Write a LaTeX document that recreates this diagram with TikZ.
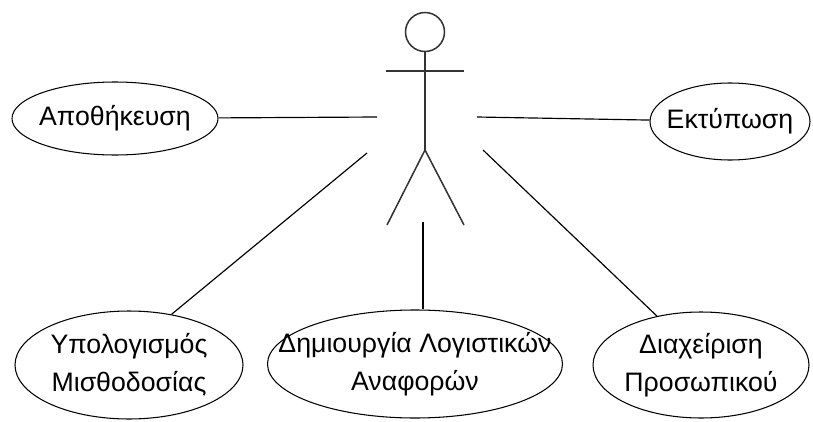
\documentclass[tikz,border=0pt]{standalone}
\usepackage{fontspec}
\setmainfont{Liberation Sans}
\usetikzlibrary{shapes.geometric}

\begin{document}
\begin{tikzpicture}[x=1cm,y=1cm]
\tikzset{
  usecase/.style={ellipse,draw,line width=0.9pt,inner sep=0pt},
  usetext/.style={font=\fontsize{22.8}{32.5}\selectfont,align=center,inner sep=0pt},
  actorline/.style={line width=1.3pt,draw=black!80},
  link/.style={line width=1pt}
}
\useasboundingbox (0,0) rectangle (24.39,12.63);
% actor
\node[circle,actorline,minimum size=1.17cm,inner sep=0pt] (n_head) at (12.75,11.67) {};
\coordinate (n_hip) at (12.75,8.13);
\coordinate (n_handL) at (11.58,10.50);
\coordinate (n_handR) at (13.92,10.50);
\coordinate (n_footL) at (11.61,5.88);
\coordinate (n_footR) at (13.92,5.88);
\draw[actorline] (n_head) -- (n_hip);
\draw[actorline] (n_handL) -- (n_handR);
\draw[actorline] (n_footL) -- (n_hip) -- (n_footR);
% use cases
\node[usecase,minimum width=6.18cm,minimum height=2.19cm,label={[usetext]center:Αποθήκευση}] (n_apo) at (3.45,9.075) {};
\node[usecase,minimum width=4.80cm,minimum height=2.31cm,label={[usetext]center:Εκτύπωση}] (n_ekt) at (21.90,8.985) {};
\node[usecase,minimum width=6.84cm,minimum height=3.24cm,label={[usetext]center:{Υπολογισμός\\Μισθοδοσίας}}] (n_upo) at (3.87,1.68) {};
\node[usecase,minimum width=8.85cm,minimum height=3.24cm,label={[usetext]center:{Δημιουργία Λογιστικών\\Αναφορών}}] (n_dim) at (12.45,1.71) {};
\node[usecase,minimum width=6.48cm,minimum height=3.18cm,label={[usetext]center:{Διαχείριση\\Προσωπικού}}] (n_dia) at (21.03,1.68) {};
% links
\coordinate (c_apo) at (11.31,9.12);
\coordinate (c_ekt) at (14.31,9.12);
\coordinate (c_upo) at (11.01,8.04);
\coordinate (c_dim) at (12.69,5.97);
\coordinate (c_dia) at (14.49,8.13);
\draw[link] (c_apo) -- (n_apo);
\draw[link] (c_ekt) -- (n_ekt);
\draw[link] (c_upo) -- (n_upo.50);
\draw[link] (c_dim) -- (c_dim |- n_dim.north);
\draw[link] (c_dia) -- (n_dia.132);
\end{tikzpicture}
\end{document}
